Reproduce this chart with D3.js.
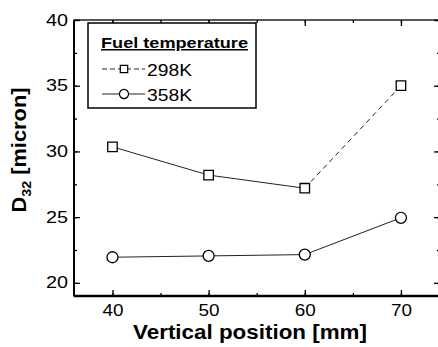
<!DOCTYPE html>
<html>
<head>
<meta charset="utf-8">
<script src="https://cdn.jsdelivr.net/npm/d3@7"></script>
<style>
  body { margin: 0; background: #fff; }
  svg { font-family: "Liberation Sans", Arial, sans-serif; }
</style>
</head>
<body>
<svg id="chart" width="438" height="347"></svg>
<script>
// data
const positions = [40, 50, 60, 70];
const d298 = [30.35, 28.2, 27.2, 35.0];
const d358 = [21.95, 22.05, 22.15, 24.95];
const xTicks = [40, 50, 60, 70];
const yTicks = [20, 25, 30, 35, 40];
const seriesNames = ['298K', '358K'];

const svg = d3.select('#chart');
const pLeft = 74, pRight = 440, pTop = 20, pBottom = 296;

const x = d3.scaleLinear().domain([36, 74]).range([pLeft, pRight - 0.6]);
const y = d3.scaleLinear().domain([19, 40]).range([pBottom, pTop]);

// frame
svg.append('rect')
  .attr('x', pLeft).attr('y', pTop)
  .attr('width', pRight - pLeft).attr('height', pBottom - pTop)
  .attr('fill', 'none').attr('stroke', '#000').attr('stroke-width', 1.3);
svg.append('line')
  .attr('x1', pLeft).attr('x2', pRight).attr('y1', pBottom).attr('y2', pBottom)
  .attr('stroke', '#000').attr('stroke-width', 2.5);
svg.append('line')
  .attr('x1', pLeft).attr('x2', pLeft).attr('y1', pTop).attr('y2', pBottom)
  .attr('stroke', '#000').attr('stroke-width', 2);

// axes, ticks inward
const minorX = d3.range(40, 74, 5);
const minorY = d3.range(20, 40.1, 2.5);

function tickAxis(axisGen, tx) {
  const g = svg.append('g').attr('transform', tx).call(axisGen);
  g.select('.domain').remove();
  g.selectAll('line').attr('stroke', '#000').attr('stroke-width', 1.3);
  return g;
}

tickAxis(d3.axisBottom(x).tickValues(minorX).tickSize(-3).tickFormat(''), `translate(0,${pBottom})`);
tickAxis(d3.axisBottom(x).tickValues(xTicks).tickSize(-6).tickPadding(9), `translate(0,${pBottom})`)
  .selectAll('text').attr('font-size', 16).attr('fill', '#000')
  .attr('textLength', 21).attr('lengthAdjust', 'spacingAndGlyphs');
tickAxis(d3.axisTop(x).tickValues(minorX).tickSize(-3).tickFormat(''), `translate(0,${pTop})`);
tickAxis(d3.axisTop(x).tickValues(xTicks).tickSize(-6).tickFormat(''), `translate(0,${pTop})`);

tickAxis(d3.axisLeft(y).tickValues(minorY).tickSize(-3).tickFormat(''), `translate(${pLeft},0)`);
tickAxis(d3.axisLeft(y).tickValues(yTicks).tickSize(-6).tickPadding(6), `translate(${pLeft},0)`)
  .selectAll('text').attr('font-size', 16).attr('fill', '#000')
  .attr('textLength', 22).attr('lengthAdjust', 'spacingAndGlyphs');
tickAxis(d3.axisRight(y).tickValues(minorY).tickSize(-3).tickFormat(''), `translate(${pRight},0)`);
tickAxis(d3.axisRight(y).tickValues(yTicks).tickSize(-6).tickFormat(''), `translate(${pRight},0)`);

// series
function drawSeries(vals, symbol, dashLast) {
  const pts = positions.map((p, i) => [x(p), y(vals[i])]);
  for (let i = 0; i < pts.length - 1; i++) {
    const dashed = dashLast && i === pts.length - 2;
    svg.append('line')
      .attr('x1', pts[i][0]).attr('y1', pts[i][1])
      .attr('x2', pts[i + 1][0]).attr('y2', pts[i + 1][1])
      .attr('stroke', '#222').attr('stroke-width', 1)
      .attr('stroke-dasharray', dashed ? '5,4' : null);
  }
  svg.append('g').selectAll('path')
    .data(pts).enter().append('path')
    .attr('transform', d => `translate(${d[0]},${d[1]})`)
    .attr('d', d3.symbol(symbol, symbol === d3.symbolSquare ? 90 : 95))
    .attr('fill', '#fff').attr('stroke', '#000').attr('stroke-width', 1.3);
}
drawSeries(d298, d3.symbolSquare, true);
drawSeries(d358, d3.symbolCircle, false);

// legend
const lg = svg.append('g');
lg.append('rect')
  .attr('x', 88).attr('y', 23).attr('width', 168).attr('height', 85)
  .attr('fill', '#fff').attr('stroke', '#000').attr('stroke-width', 1.5);
lg.append('text')
  .attr('x', 101).attr('y', 48)
  .attr('font-size', 15).attr('font-weight', 'bold')
  .attr('text-decoration', 'underline')
  .attr('textLength', 147).attr('lengthAdjust', 'spacingAndGlyphs')
  .text('Fuel temperature');
const legSym = [d3.symbolSquare, d3.symbolCircle];
seriesNames.forEach((name, i) => {
  const cy = 69 + i * 25;
  lg.append('line').attr('x1', 102).attr('x2', 145).attr('y1', cy).attr('y2', cy)
    .attr('stroke', '#222').attr('stroke-width', 1)
    .attr('stroke-dasharray', i === 0 ? '5,3' : null);
  lg.append('path')
    .attr('transform', `translate(124,${cy})`)
    .attr('d', d3.symbol(legSym[i], i === 0 ? 55 : 65))
    .attr('fill', '#fff').attr('stroke', '#000').attr('stroke-width', 1.2);
  lg.append('text')
    .attr('x', 147).attr('y', cy + 6.5)
    .attr('font-size', 17)
    .attr('textLength', 45).attr('lengthAdjust', 'spacingAndGlyphs')
    .text(name);
});

// axis titles
svg.append('text')
  .attr('x', 250).attr('y', 339)
  .attr('text-anchor', 'middle')
  .attr('font-size', 19.5).attr('font-weight', 'bold')
  .attr('textLength', 234).attr('lengthAdjust', 'spacingAndGlyphs')
  .text('Vertical position [mm]');

const yt = svg.append('text')
  .attr('transform', 'translate(26,150) rotate(-90)')
  .attr('text-anchor', 'middle')
  .attr('font-size', 20).attr('font-weight', 'bold')
  .attr('textLength', 125).attr('lengthAdjust', 'spacingAndGlyphs');
yt.append('tspan').text('D');
yt.append('tspan').attr('font-size', 13).attr('dy', 5).text('32');
yt.append('tspan').attr('dy', -5).text(' [micron]');
</script>
</body>
</html>
